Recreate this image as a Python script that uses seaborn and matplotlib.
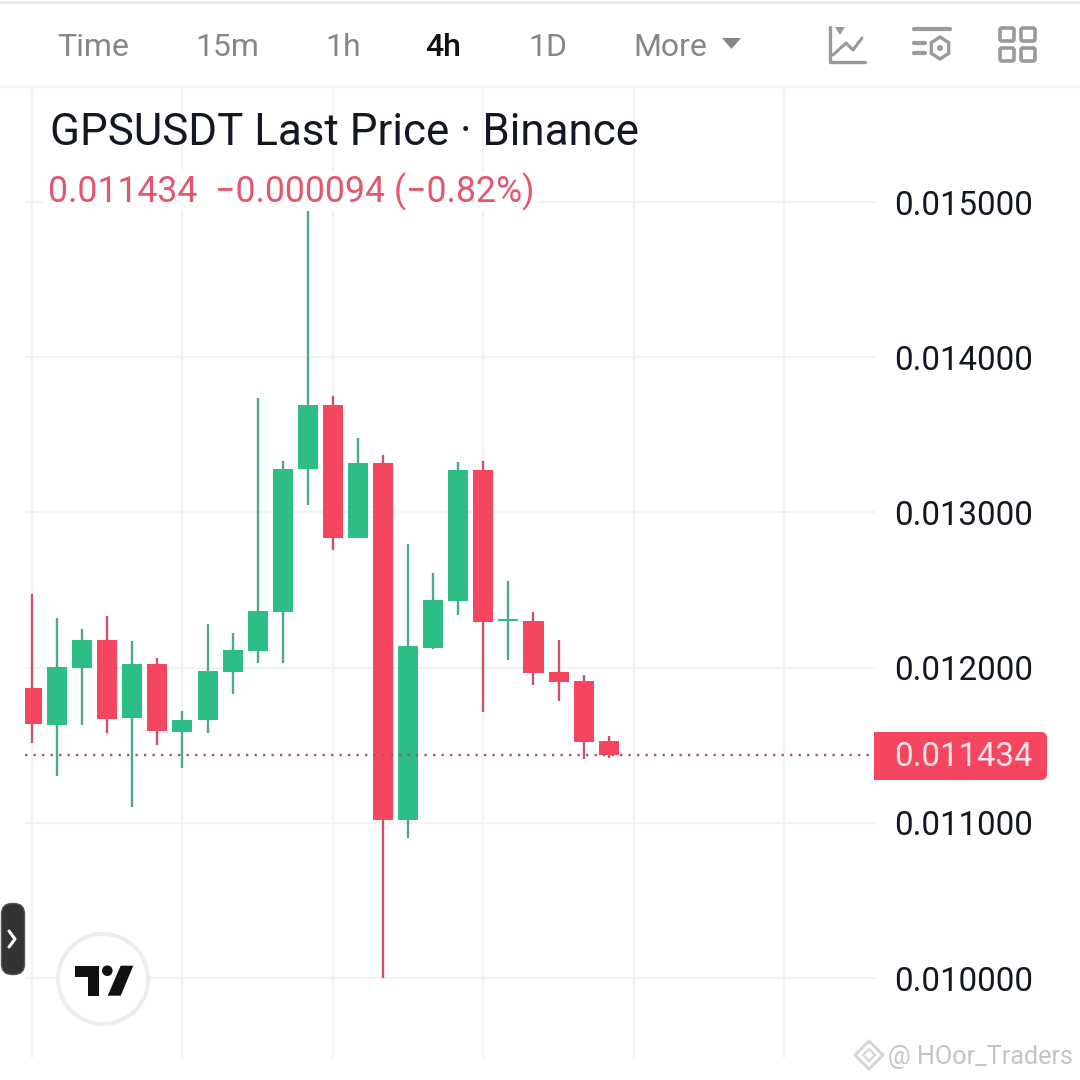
import numpy as np
import pandas as pd
import seaborn as sns
import matplotlib.pyplot as plt
from matplotlib.patches import Circle, FancyBboxPatch, Polygon, Rectangle

# candles
opens = [0.011869, 0.011632, 0.011997, 0.012178, 0.011677, 0.012023, 0.011587, 0.011664,
         0.011974, 0.012109, 0.012358, 0.013280, 0.013692, 0.012835, 0.013318, 0.011018,
         0.012128, 0.012431, 0.013273, 0.012300, 0.012300, 0.011972, 0.011914, 0.011527]
highs = [0.012474, 0.012320, 0.012249, 0.012332, 0.012171, 0.012062, 0.011720, 0.012281,
         0.012223, 0.013737, 0.013331, 0.014950, 0.013750, 0.013479, 0.013370, 0.012796,
         0.012610, 0.013325, 0.013331, 0.012558, 0.012358, 0.012178, 0.011952, 0.011559]
lows = [0.011516, 0.011303, 0.011632, 0.011581, 0.011104, 0.011503, 0.011355, 0.011581,
        0.011832, 0.012032, 0.012032, 0.013048, 0.012758, 0.012835, 0.010000, 0.010902,
        0.012122, 0.012341, 0.011716, 0.012049, 0.011888, 0.011787, 0.011411, 0.011420]
closes = [0.011639, 0.012004, 0.012178, 0.011671, 0.012023, 0.011593, 0.011662, 0.011978,
          0.012113, 0.012365, 0.013280, 0.013692, 0.012835, 0.013318, 0.011018, 0.012139,
          0.012436, 0.013273, 0.012296, 0.012313, 0.011967, 0.011909, 0.011523, 0.011434]
price_ticks = [0.010, 0.011, 0.012, 0.013, 0.014, 0.015]
time_grid = [0, 6, 12, 18, 24, 30]
last_price = 0.011434
tabs = ["Time", "15m", "1h", "4h", "1D", "More"]

RED = "#F6465F"
GREEN = "#2EBD85"
RED_WICK = "#CB5269"
GREEN_WICK = "#4CAA8B"
ICON = "#9A9A9A"
W, H = 1080, 1080

df = pd.DataFrame({"idx": range(len(opens)), "open": opens, "high": highs, "low": lows, "close": closes})
df["base"] = df[["open", "close"]].min(axis=1)
df["body"] = (df["close"] - df["open"]).abs()
df["up"] = df["close"] >= df["open"]

sns.set_theme(style="white")
plt.rcParams["font.family"] = ["Roboto", "DejaVu Sans"]

fig = plt.figure(figsize=(W / 100, H / 100), dpi=100, facecolor="white")
ax = fig.add_axes([25 / W, 1 - 1058 / H, 850 / W, 971 / H])

# wicks under the bodies
ax.vlines(df.idx[df.up], df.low[df.up], df.high[df.up], color=GREEN_WICK, lw=1.7, zorder=2)
ax.vlines(df.idx[~df.up], df.low[~df.up], df.high[~df.up], color=RED_WICK, lw=1.7, zorder=2)

for sub, col in [(df[df.up], GREEN), (df[~df.up], RED)]:
    sns.barplot(data=sub, x="idx", y="body", bottom=sub["base"].values, native_scale=True,
                color=col, width=0.8, saturation=1, linewidth=0, ax=ax, zorder=3, errorbar=None)

ax.axhline(last_price, color="#9A5A70", lw=1.7, ls=(0, (1, 2.6)), zorder=4)

ax.set_xlim(-0.28, 33.62)
ax.set_ylim(0.009485, 0.015741)
ax.set_xticks(time_grid)
ax.set_yticks(price_ticks)
ax.set_yticklabels([f"{p:.6f}" for p in price_ticks])
ax.yaxis.tick_right()
ax.tick_params(axis="y", length=0, pad=13.5, labelsize=23.8, labelcolor="#131722")
ax.tick_params(axis="x", length=0, labelbottom=False)
ax.set_xlabel("")
ax.set_ylabel("")
ax.grid(True, color="#F2F2F3", lw=1.5, zorder=0)
ax.set_axisbelow(True)
sns.despine(ax=ax, left=True, bottom=True, right=True, top=True)

# everything round the chart, in pixel coordinates
ov = fig.add_axes([0, 0, 1, 1], facecolor="none")
ov.set_xlim(0, W)
ov.set_ylim(H, 0)
ov.axis("off")

ov.plot([0, W], [2, 2], color="#EDEDED", lw=2)
ov.plot([0, W], [86, 86], color="#F6F6F6", lw=2.5)

tab_x = [93, 227, 343, 443, 548, 670]
for t, x in zip(tabs, tab_x):
    active = t == "4h"
    ov.text(x, 47, t, ha="center", va="center", fontsize=23, color="#111111" if active else "#868686",
            fontweight="medium" if active else "normal")
ov.add_patch(Polygon([(722, 38), (741, 38), (731.5, 49)], color="#868686", lw=0))

# toolbar icons
ov.plot([830, 830, 865], [27, 62, 62], color=ICON, lw=2.4)
ov.add_patch(Polygon([(835, 27), (845, 27), (840, 35)], color=ICON, lw=0))
ov.plot([833, 846, 853, 862], [55, 43, 50, 38], color=ICON, lw=2.2)
ov.plot([914, 950], [29, 29], color=ICON, lw=3)
ov.plot([914, 925], [43, 43], color=ICON, lw=3)
ov.plot([914, 925], [53, 53], color=ICON, lw=3)
ang = np.radians(np.arange(30, 390, 60))
ov.add_patch(Polygon(np.c_[940 + 10 * np.cos(ang), 48 + 11 * np.sin(ang)], fill=False, ec=ICON, lw=2.4))
ov.add_patch(Circle((940, 48), 3, color=ICON, lw=0))
for x0 in [1000, 1021]:
    for y0 in [28, 48]:
        ov.add_patch(FancyBboxPatch((x0 + 2, y0 + 2), 10, 9, boxstyle="round,pad=2,rounding_size=2",
                                    fill=False, ec=ICON, lw=2.6))

# legend header
ov.text(50, 133, "GPSUSDT Last Price · Binance", ha="left", va="center", fontsize=31.6, color="#131722")
ov.add_patch(Rectangle((44, 171), 494, 40, color="white", lw=0, zorder=2))
ov.text(48, 192, "0.011434  −0.000094 (−0.82%)", ha="left", va="center", fontsize=25.7, color="#E5566C", zorder=3)

# last price tag
ov.add_patch(FancyBboxPatch((880, 732), 167, 48, boxstyle="round,pad=0,rounding_size=6", color=RED, lw=0,
                            mutation_aspect=1))
ov.add_patch(Rectangle((874, 732), 40, 48, color=RED, lw=0))
ov.text(963, 757, f"{last_price:.6f}", ha="center", va="center", fontsize=23.8, color="#FBE4E8")

# side handle
ov.add_patch(FancyBboxPatch((12, 914), 2, 50, boxstyle="round,pad=10.5,rounding_size=10.5", fc="#333333",
                            ec="#555555", lw=1))
ov.plot([9, 15, 9], [931, 939, 947], color="white", lw=2.2)

# tradingview badge
ov.add_patch(Circle((103, 979), 45, fc="white", ec="#EDEDED", lw=3, zorder=3))
ov.add_patch(Polygon([(74.7, 965.7), (99.3, 965.7), (99.3, 995.7), (88.3, 995.7), (88.3, 976.7), (74.7, 976.7)],
                     color="#111111", lw=0, zorder=4))
ov.add_patch(Circle((107.3, 970.7), 5.3, color="#111111", lw=0, zorder=4))
ov.add_patch(Polygon([(120.7, 965.7), (133.3, 965.7), (120.7, 995.7), (107.7, 995.7)], color="#111111", lw=0, zorder=4))

# watermark
ov.add_patch(Polygon([(869, 1041), (883, 1055), (869, 1069), (855, 1055)], fill=False, ec="#D4D4D4", lw=2))
ov.add_patch(Polygon([(869, 1049), (875, 1055), (869, 1061), (863, 1055)], fill=False, ec="#D4D4D4", lw=1.5))
ov.text(888, 1057, "@ HOor_Traders", ha="left", va="center", fontsize=18.2, color="#C4C4C4")

fig.savefig("out.png", dpi=100, facecolor="white")
